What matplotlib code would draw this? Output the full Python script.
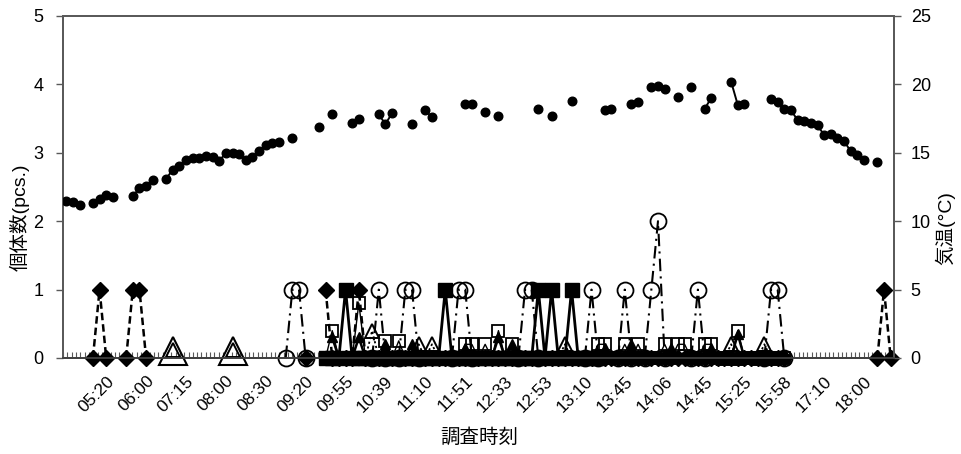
import numpy as np
import matplotlib
matplotlib.use('Agg')
import matplotlib.pyplot as plt
from matplotlib.transforms import ScaledTranslation

plt.rcParams['font.family'] = ['Liberation Sans', 'Noto Sans CJK JP', 'DejaVu Sans']

_ = None

# x-axis tick labels (every 6th category, starting at category 6)
time_labels = ['05:20', '06:00', '07:15', '08:00', '08:30', '09:20', '09:55',
               '10:39', '11:10', '11:51', '12:33', '12:53', '13:10', '13:45',
               '14:06', '14:45', '15:25', '15:58', '17:10', '18:00']

# temperature (right axis, deg C), one value per category (125 categories)
temperature = [
    11.5, 11.4, 11.15, _, 11.3, 11.6, 11.9, 11.75, _, _,
    11.85, 12.4, 12.6, 13.0, _, 13.1, 13.75, 14.0, 14.5, 14.65,
    14.6, 14.75, 14.7, 14.4, 15.0, 14.95, 14.9, 14.5, 14.7, 15.1,
    15.6, 15.7, 15.8, _, 16.1, _, _, _, 16.9, _,
    17.8, _, _, 17.2, 17.45, _, _, 17.8, 17.1, 17.9,
    _, _, 17.1, _, 18.1, 17.6, _, _, _, _,
    18.6, 18.6, _, 18.0, _, 17.7, _, _, _, _,
    _, 18.2, _, 17.7, _, _, 18.8, _, _, _,
    _, 18.1, 18.2, _, _, 18.6, 18.75, _, 19.8, 19.9,
    19.65, _, 19.1, _, 19.8, _, 18.2, 19.0, _, _,
    20.2, 18.5, 18.6, _, _, _, 18.9, 18.7, 18.2, 18.1,
    17.4, 17.3, 17.2, 17.0, 16.3, 16.4, 16.1, 15.85, 15.1, 14.85,
    14.5, _, 14.3, _, _,
]

# counts (left axis, pcs.)
diamonds = [
    _, _, _, _, 0, 1, 0, _, _, 0,
    1, 1, 0, _, _, _, _, _, _, _,
    _, _, _, _, _, _, _, _, _, _,
    _, _, _, _, _, _, 0, _, _, 1,
    0, 0, 0, 0, 1, 0, 0, 0, 0, 0,
    0, 0, 0, 0, 0, 0, 0, 0, 0, 0,
    0, 0, 0, 0, 0, 0, 0, 0, 0, 0,
    0, 0, 0, 0, 0, 0, 0, 0, 0, 0,
    0, 0, 0, 0, 0, 0, 0, 0, 0, 0,
    0, 0, 0, 0, 0, 0, 0, 0, 0, 0,
    0, 0, 0, 0, 0, 0, 0, 0, 0, _,
    _, _, _, _, _, _, _, _, _, _,
    _, _, 0, 1, 0,
]

circles = [
    _, _, _, _, _, _, _, _, _, _,
    _, _, _, _, _, _, _, _, _, _,
    _, _, _, _, _, _, _, _, _, _,
    _, _, _, 0, 1, 1, 0, _, _, _,
    _, _, _, _, _, _, 0, 1, 0, _,
    0, 1, 1, 0, _, _, _, _, 0, 1,
    1, 0, _, _, _, _, _, _, 0, 1,
    1, 0, _, _, _, _, _, _, 0, 1,
    0, _, _, 0, 1, 0, _, 0, 1, 2,
    0, _, _, _, 0, 1, 0, _, _, _,
    _, _, _, _, _, 0, 1, 1, 0, _,
    _, _, _, _, _, _, _, _, _, _,
    _, _, _, _, _,
]

filled_squares = [
    _, _, _, _, _, _, _, _, _, _,
    _, _, _, _, _, _, _, _, _, _,
    _, _, _, _, _, _, _, _, _, _,
    _, _, _, _, _, _, _, _, _, 0,
    0, 0, 1, 0, 0, 0, 0, 0, 0, 0,
    0, 0, 0, 0, 0, 0, 0, 1, 0, 0,
    0, 0, 0, 0, 0, 0, 0, 0, 0, 0,
    0, 1, 0, 1, 0, 0, 1, 0, 0, 0,
    0, _, _, _, _, _, _, _, _, _,
    _, _, _, _, _, _, _, _, _, _,
    _, _, _, _, _, _, _, _, _, _,
    _, _, _, _, _, _, _, _, _, _,
    _, _, _, _, _,
]

open_squares = [
    _, _, _, _, _, _, _, _, _, _,
    _, _, _, _, _, _, _, _, _, _,
    _, _, _, _, _, _, _, _, _, _,
    _, _, _, _, _, _, _, _, _, 0,
    0.4, 0, 0, 0, 0.8, 0, 0, 0, 0.25, 0,
    0.25, 0, 0, 0, 0, 0, 0, 0, 0, 0,
    0.2, 0.2, 0, 0.2, 0, 0.4, 0, 0.2, 0, 0,
    0, 0, 0, 0, 0, 0, 0, 0, 0, 0,
    0.2, 0.2, 0, 0, 0.2, 0, 0.2, 0, 0, 0,
    0.2, 0, 0.2, 0.2, 0, 0, 0.2, 0.2, 0, 0,
    0, 0.4, 0, 0, 0, 0, 0, 0, 0, _,
    _, _, _, _, _, _, _, _, _, _,
    _, _, _, _, _,
]

triangles = [
    _, _, _, _, _, _, _, _, _, _,
    _, _, _, _, _, _, 0.12, _, _, _,
    _, _, _, _, _, 0.12, _, _, _, _,
    _, _, _, _, _, _, _, _, _, _,
    _, _, _, _, _, 0, 0.4, 0, _, _,
    _, _, 0, 0.2, 0, 0.2, 0, _, _, _,
    _, _, _, _, _, _, _, _, _, _,
    _, _, _, _, 0, 0.2, 0, _, _, _,
    _, _, _, _, _, _, _, _, _, _,
    _, _, _, _, _, _, _, _, _, 0,
    0.2, 0, _, _, 0, 0.2, 0, _, _, _,
    _, _, _, _, _, _, _, _, _, _,
    _, _, _, _, _,
]

large_triangles = [
    _, _, _, _, _, _, _, _, _, _,
    _, _, _, _, _, _, 0.1, _, _, _,
    _, _, _, _, _, 0.1, _, _, _, _,
    _, _, _, _, _, _, _, _, _, _,
    _, _, _, _, _, _, _, _, _, _,
    _, _, _, _, _, _, _, _, _, _,
    _, _, _, _, _, _, _, _, _, _,
    _, _, _, _, _, _, _, _, _, _,
    _, _, _, _, _, _, _, _, _, _,
    _, _, _, _, _, _, _, _, _, _,
    _, _, _, _, _, _, _, _, _, _,
    _, _, _, _, _, _, _, _, _, _,
    _, _, _, _, _,
]

filled_triangles = [
    _, _, _, _, _, _, _, _, _, _,
    _, _, _, _, _, _, _, _, _, _,
    _, _, _, _, _, _, _, _, _, _,
    _, _, _, _, _, _, _, _, _, _,
    0.3, 0, 0, 0, 0.3, 0, 0, 0, 0.2, 0,
    0, 0, 0.2, 0, 0, 0, 0, 0, 0, 0,
    0.15, 0, 0, 0, 0, 0.3, 0, 0.2, 0, 0,
    0, 0, 0, 0, 0, 0, 0, 0, 0, 0,
    0, 0.15, 0, 0, 0, 0.2, 0, 0, 0, 0,
    0, 0.15, 0, 0, 0, 0, 0, 0.15, 0, 0,
    0, 0.35, 0, 0, 0, 0, 0, 0, 0, _,
    _, _, _, _, _, _, _, _, _, _,
    _, _, _, _, _,
]


def arr(v):
    return np.array(v, dtype=float)


N = len(temperature)
x = np.arange(N)

W, H = 961, 454
fig = plt.figure(figsize=(W / 100, H / 100), dpi=100)
ax = fig.add_axes([63 / W, 1 - 358 / H, (894 - 63) / W, (358 - 16) / H])

common = dict(color='black', clip_on=False)
ax.plot(x, arr(open_squares), lw=1.0, marker='s', ms=8.6,
        mfc='none', mec='black', mew=1.3, zorder=2, **common)
ax.plot(x, arr(large_triangles), lw=1.0, marker='^', ms=20,
        mfc='none', mec='black', mew=1.5, zorder=3, **common)
ax.plot(x, arr(triangles), lw=1.3, ls=(0, (1.2, 1.5)), marker='^',
        ms=10, mfc='none', mec='black', mew=1.4, zorder=3, **common)
ax.plot(x, arr(filled_triangles), lw=1.8, marker='^', ms=7,
        mfc='black', mec='black', zorder=4, **common)
ax.plot(x, arr(filled_squares), lw=2.0, marker='s', ms=9.5,
        mfc='black', mec='black', zorder=5, **common)
ax.plot(x, arr(diamonds), lw=1.8, ls=(0, (3, 1.6)), marker='D',
        ms=8.2, mfc='black', mec='black', zorder=6, **common)
ax.plot(x, arr(circles), lw=1.5, ls=(0, (6, 2.5, 1, 2.5)),
        marker='o', ms=11.5, mfc='none', mec='black', mew=1.3, zorder=7,
        **common)

ax.set_xlim(-0.5, N - 0.5)
ax.set_ylim(0, 5)
ax.set_yticks(range(6))

label_idx = [6 * (k + 1) for k in range(len(time_labels))]
ax.set_xticks(label_idx)
ax.set_xticklabels(time_labels, rotation=45, ha='right', va='top',
                   rotation_mode='anchor', fontsize=12.5)
shift = ScaledTranslation(-3 / 100, 0, fig.dpi_scale_trans)
for lab in ax.get_xticklabels():
    lab.set_transform(lab.get_transform() + shift)
ax.tick_params(axis='x', which='major', length=0, pad=11)
ax.set_xticks(np.linspace(-0.5, N - 0.5, 193), minor=True)
ax.tick_params(axis='x', which='minor', direction='in', length=4, width=0.8,
               color='#595959')
ax.tick_params(axis='y', direction='out', length=5, width=1.0, color='#595959',
               labelsize=13, pad=9)

ax2 = ax.twinx()
ax2.plot(x, arr(temperature), color='black', lw=1.4, marker='o', ms=6.2,
         mfc='black', mec='black', zorder=8)
ax2.set_ylim(0, 25)
ax2.set_yticks(range(0, 26, 5))
ax2.tick_params(axis='y', direction='out', length=5, width=1.0, color='#595959',
                labelsize=13, pad=7)

for a in (ax, ax2):
    for s in ('left', 'right', 'top'):
        a.spines[s].set_color('#595959')
        a.spines[s].set_linewidth(1.3)
    a.spines['bottom'].set_color('#404040')
    a.spines['bottom'].set_linewidth(1.3)

fig.text(20 / W, 1 - 217 / H, '個体数(pcs.)', rotation=90, ha='center',
         va='center', fontsize=14)
fig.text(945 / W, 1 - 228 / H, '気温(°C)', rotation=90, ha='center',
         va='center', fontsize=14)
fig.text(479 / W, 1 - 438 / H, '調査時刻', ha='center', va='center', fontsize=14)

fig.savefig('out.png', dpi=100)
